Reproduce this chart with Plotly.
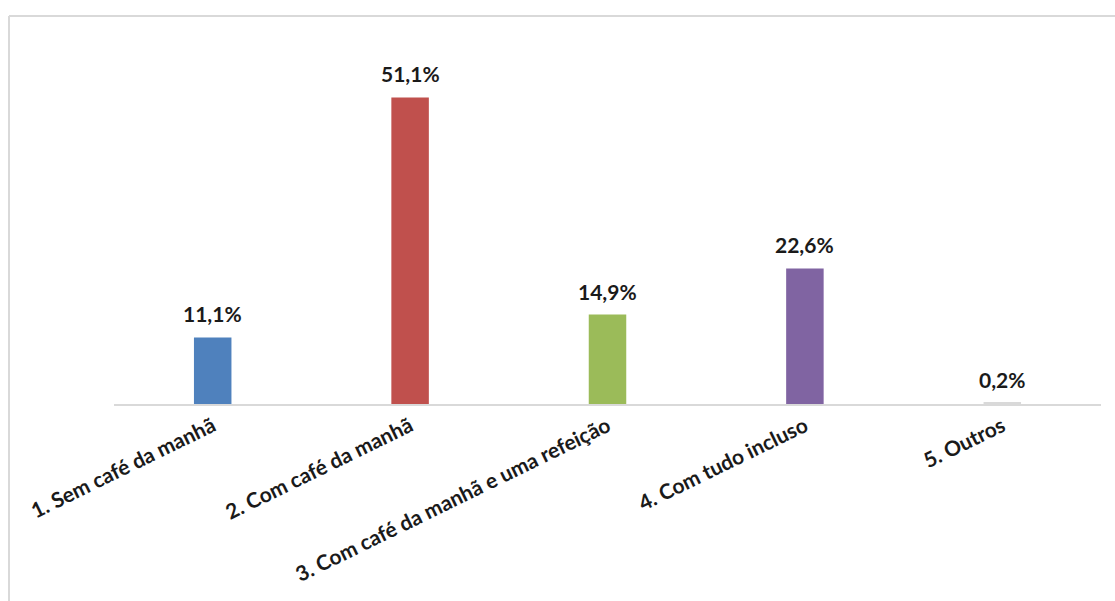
import plotly.graph_objects as go

categories = ["1. Sem café da manhã", "2. Com café da manhã", "3. Com café da manhã e uma refeição",
              "4. Com tudo incluso", "5. Outros"]
values = [11.1, 51.1, 14.9, 22.6, 0.2]
colors = ["#4F81BD", "#C0504D", "#9BBB59", "#8064A2", "#D9D9D9"]
labels = [f"{v:.1f}".replace(".", ",") + "%" for v in values]

W, H = 1115, 601
ML, MR, MT, MB = 114, 14, 44, 197

fig = go.Figure()
fig.add_trace(go.Bar(x=categories, y=values, marker=dict(color=colors, line=dict(width=0)),
                     width=0.19, hoverinfo="skip"))
for c, v, t in zip(categories, values, labels):
    fig.add_annotation(x=c, y=v, text=f"<b>{t}</b>", showarrow=False, yanchor="bottom", yshift=9,
                       font=dict(family="Lato", size=21, color="#1a1a1a"))

pw = W - ML - MR
ph = H - MT - MB
x0 = (9 - ML) / pw
y0 = (H - 16 - MB) / ph
fig.add_shape(type="line", xref="paper", yref="paper", x0=x0, x1=(W + 5 - ML) / pw, y0=y0, y1=y0,
              line=dict(color="#d9d9d9", width=2))
fig.add_shape(type="line", xref="paper", yref="paper", x0=x0, x1=x0, y0=y0, y1=-MB / ph - 0.05,
              line=dict(color="#d9d9d9", width=2))

fig.update_layout(
    width=W, height=H, margin=dict(l=ML, r=MR, t=MT, b=MB),
    paper_bgcolor="white", plot_bgcolor="white", showlegend=False,
    xaxis=dict(showgrid=False, showline=True, linecolor="#d9d9d9", linewidth=2, ticks="",
               tickangle=-26, tickfont=dict(family="Lato", size=21, color="#1a1a1a"),
               tickprefix="<b>", ticksuffix="</b>"),
    yaxis=dict(range=[0, 60], visible=False),
)
fig.write_html("out.html")
